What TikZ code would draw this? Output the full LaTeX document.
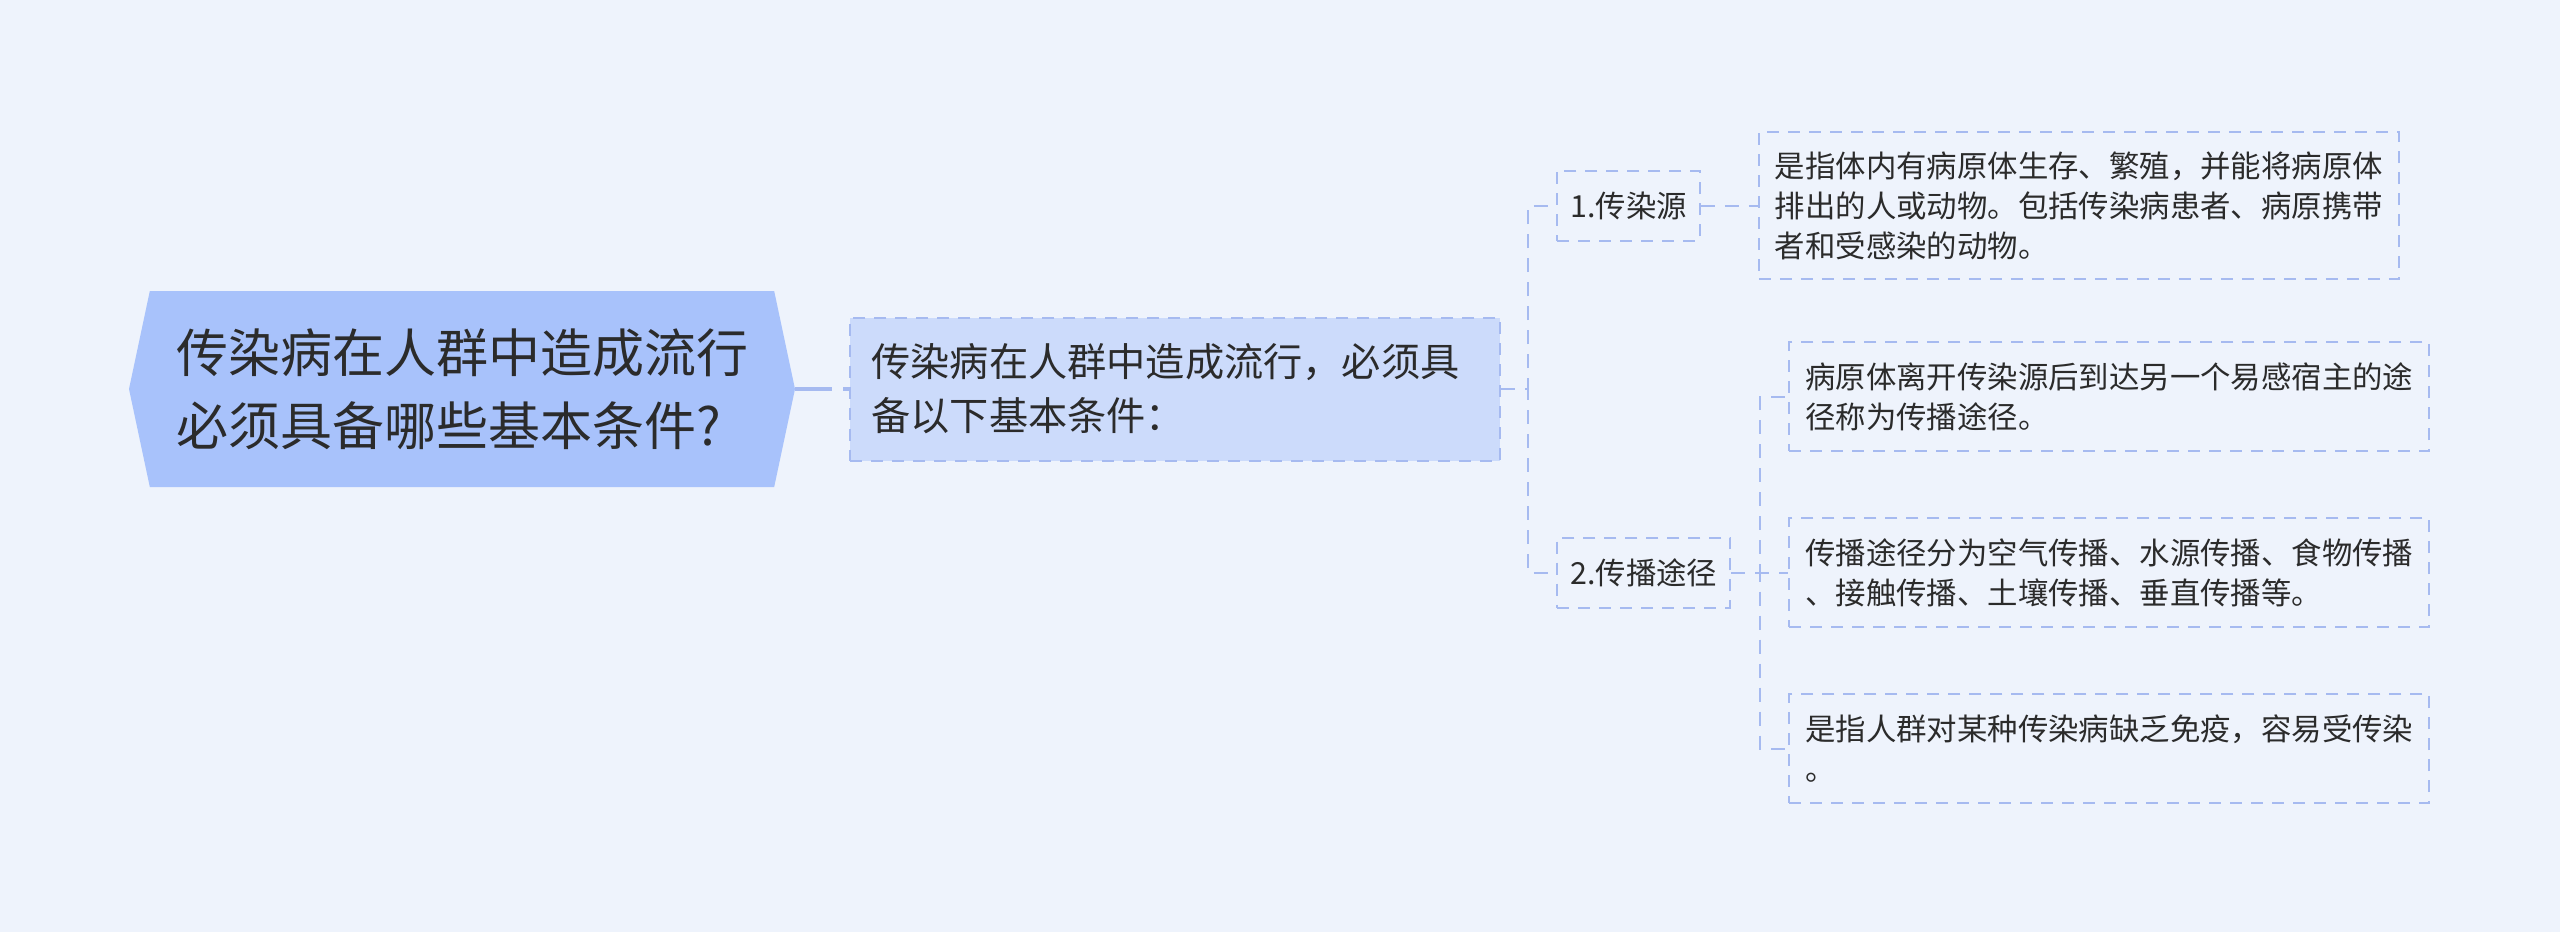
\documentclass[tikz,border=0pt]{standalone}
\usepackage{fontspec}
\setmainfont{Noto Sans CJK SC}
\usepackage{xcolor}
\usetikzlibrary{positioning,shapes.symbols}

\definecolor{bgcol}{HTML}{EEF3FC}
\definecolor{rootcol}{HTML}{A8C2FB}
\definecolor{maincol}{HTML}{CCDBFB}
\definecolor{linecol}{HTML}{A6BAF0}
\definecolor{txtcol}{HTML}{2B2B2B}

\begin{document}
\begin{tikzpicture}[node distance = 27pt,
    rootnode/.style={signal, signal to=east and west, signal pointer angle=156,
        fill=rootcol, minimum width=333pt, minimum height=98pt, inner sep=0pt,
        align=left, text=txtcol, font=\fontsize{26}{36.7}\selectfont},
    mainnode/.style={draw=linecol, line width=1pt, dash pattern=on 6pt off 4.5pt,
        fill=maincol, text width=304pt, inner xsep=10.5pt, minimum height=71.5pt,
        align=left, text=txtcol, font=\fontsize{19.6}{27}\selectfont},
    subnode/.style={draw=linecol, line width=1pt, dash pattern=on 6pt off 4.5pt,
        inner xsep=6.5pt, minimum height=35pt, text=txtcol,
        font=\fontsize{15.2}{20}\selectfont},
    leafnode/.style={draw=linecol, line width=1pt, dash pattern=on 6pt off 4.5pt,
        text width=304pt, inner xsep=8pt, minimum height=54.5pt,
        align=left, text=txtcol, font=\fontsize{15.2}{20}\selectfont},
    link/.style={draw=linecol, line width=1pt, dash pattern=on 7pt off 5pt}]

    \path[use as bounding box, fill=bgcol] (0,0) rectangle (1280pt,-466pt);

    \node [rootnode] (root) at (231pt,-194.5pt) {传染病在人群中造成流行\\必须具备哪些基本条件?};
    \node [mainnode] [right=of root] (main) {传染病在人群中造成流行，必须具\\备以下基本条件：};
    \node [subnode] [right=27.5pt of main, yshift=91.75pt] (src) {1.传染源};
    \node [subnode] [right=27.5pt of main, yshift=-91.75pt] (route) {2.传播途径};
    \node [leafnode, minimum height=73.5pt] [right=28.5pt of src] (srcinfo) {是指体内有病原体生存、繁殖，并能将病原体\\排出的人或动物。包括传染病患者、病原携带\\者和受感染的动物。};
    \node [leafnode] [right=28.5pt of route] (routekind) {传播途径分为空气传播、水源传播、食物传播\\、接触传播、土壤传播、垂直传播等。};
    \node [leafnode] [above=32.5pt of routekind] (routedef) {病原体离开传染源后到达另一个易感宿主的途\\径称为传播途径。};
    \node [leafnode] [below=32.5pt of routekind] (crowd) {是指人群对某种传染病缺乏免疫，容易受传染\\。};

    \draw [link, line width=2pt, dash pattern=on 18.5pt off 5.5pt] (root.east) -- (main.west);
    \draw [link] (main.east) -- ++(13.5pt,0) |- (src.west);
    \draw [link] (main.east) -- ++(13.5pt,0) |- (route.west);
    \draw [link] (src.east) -- (srcinfo.west);
    \foreach \leaf in {routedef,routekind,crowd}
        \draw [link] (route.east) -- ++(14.5pt,0) |- (\leaf.west);
\end{tikzpicture}
\end{document}
